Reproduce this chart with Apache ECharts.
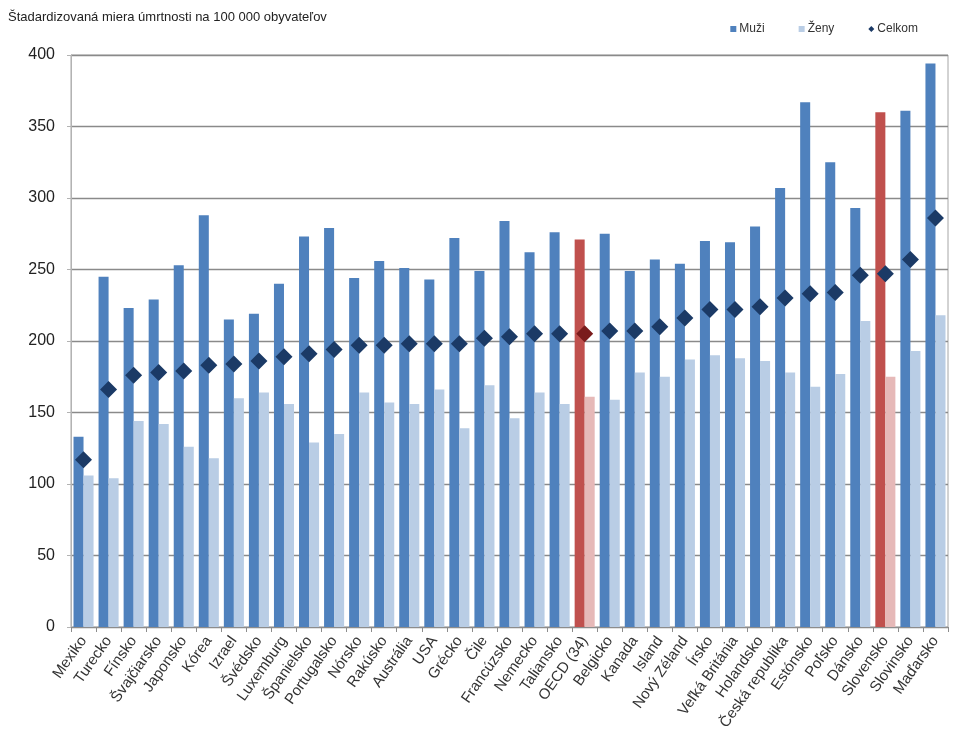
<!DOCTYPE html>
<html>
<head>
<meta charset="utf-8">
<script src="https://cdn.jsdelivr.net/npm/echarts@6/dist/echarts.min.js"></script>
<style>
  html, body { margin: 0; padding: 0; background: #fff; }
  #chart { width: 955px; height: 745px; }
</style>
</head>
<body>
<div id="chart"></div>
<script>
var countries = ['Mexiko', 'Turecko', 'Fínsko', 'Švajčiarsko', 'Japonsko', 'Kórea', 'Izrael', 'Švédsko',
  'Luxemburg', 'Španielsko', 'Portugalsko', 'Nórsko', 'Rakúsko', 'Austrália', 'USA', 'Grécko', 'Čile',
  'Francúzsko', 'Nemecko', 'Taliansko', 'OECD (34)', 'Belgicko', 'Kanada', 'Island', 'Nový Zéland', 'Írsko',
  'Veľká Británia', 'Holandsko', 'Česká republika', 'Estónsko', 'Poľsko', 'Dánsko', 'Slovensko', 'Slovinsko', 'Maďarsko'];
var muzi = [133, 245, 223, 229, 253, 288, 215, 219, 240, 273, 279, 244, 256, 251, 243, 272, 249,
  284, 262, 276, 271, 275, 249, 257, 254, 270, 269, 280, 307, 367, 325, 293, 360, 361, 394];
var zeny = [106, 104, 144, 142, 126, 118, 160, 164, 156, 129, 135, 164, 157, 156, 166, 139, 169,
  146, 164, 156, 161, 159, 178, 175, 187, 190, 188, 186, 178, 168, 177, 214, 175, 193, 218];
var celkom = [117, 166, 176, 178, 179, 183, 184, 186, 189, 191, 194, 197, 197, 198, 198, 198, 202,
  203, 205, 205, 205, 207, 207, 210, 216, 222, 222, 224, 230, 233, 234, 246, 247, 257, 286];
var highlighted = ['OECD (34)', 'Slovensko'];
var yTicks = [0, 50, 100, 150, 200, 250, 300, 350, 400];

var font = '"Liberation Sans", Arial, sans-serif';
var blue = '#4f81bd', lightBlue = '#b9cde5', navy = '#1b3a66';
var red = '#c0504d', pink = '#e6b9b8', darkRed = '#7a1c1c';

function colored(values, normal, special) {
  return values.map(function(v, i) {
    var hit = highlighted.indexOf(countries[i]) >= 0;
    return { value: v, itemStyle: { color: hit ? special : normal } };
  });
}

var chart = echarts.init(document.getElementById('chart'), null, { renderer: 'canvas' });
chart.setOption({
  animation: false,
  textStyle: { fontFamily: font },
  title: {
    text: 'Štadardizovaná miera úmrtnosti na 100 000 obyvateľov',
    left: 3, top: 6,
    textStyle: { fontSize: 13, fontWeight: 'normal', color: '#222', fontFamily: font }
  },
  legend: {
    right: 32, top: 18,
    itemWidth: 6, itemHeight: 6, itemGap: 34,
    textStyle: { fontSize: 12, color: '#333', fontFamily: font, padding: [0, 0, 0, -2] },
    data: [
      { name: 'Muži', icon: 'rect', itemStyle: { color: blue } },
      { name: 'Ženy', icon: 'rect', itemStyle: { color: lightBlue } },
      { name: 'Celkom', icon: 'diamond', itemStyle: { color: navy } }
    ]
  },
  grid: {
    left: 71, right: 7, top: 55, bottom: 118,
    show: true, borderColor: '#a6a6a6', borderWidth: 1
  },
  xAxis: {
    type: 'category',
    data: countries,
    axisLine: { lineStyle: { color: '#8c8c8c', width: 1.2 } },
    axisTick: { show: true, length: 5, lineStyle: { color: '#8c8c8c' } },
    axisLabel: { interval: 0, rotate: 55, fontSize: 15, color: '#333', margin: 11, fontFamily: font }
  },
  yAxis: {
    type: 'value',
    min: yTicks[0], max: yTicks[yTicks.length - 1], interval: 50,
    axisLine: { show: true, lineStyle: { color: '#b3b3b3' } },
    axisTick: { show: true, length: 4, lineStyle: { color: '#b3b3b3' } },
    axisLabel: { fontSize: 16, color: '#222', margin: 16, fontFamily: font },
    splitLine: { lineStyle: { color: '#8a8a8a', width: 1.3 } }
  },
  series: [
    { name: 'Muži', type: 'bar', barGap: '0%', barCategoryGap: '20%', itemStyle: { color: blue },
      data: colored(muzi, blue, red) },
    { name: 'Ženy', type: 'bar', itemStyle: { color: lightBlue },
      data: colored(zeny, lightBlue, pink) },
    { name: 'Celkom', type: 'line', symbol: 'diamond', symbolSize: 17, showSymbol: true,
      lineStyle: { width: 0, opacity: 0 }, itemStyle: { color: navy }, z: 5,
      data: celkom.map(function(v, i) {
        return { value: v, itemStyle: { color: countries[i] === 'OECD (34)' ? darkRed : navy } };
      }) }
  ]
});
window.addEventListener('resize', function() { chart.resize(); });
</script>
</body>
</html>
